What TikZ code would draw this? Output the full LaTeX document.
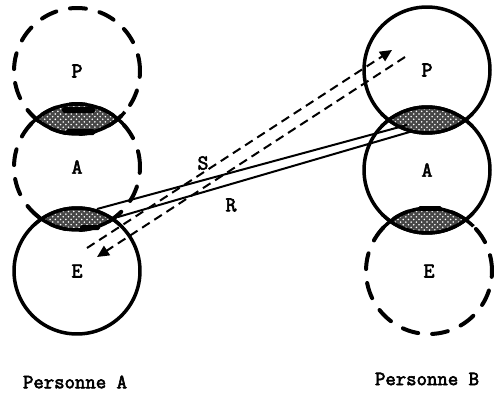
\documentclass[tikz,border=0pt]{standalone}
\usepackage{fontspec}
\setmonofont{Latin Modern Mono}[AutoFakeBold=3]
\usetikzlibrary{arrows.meta,patterns}
\begin{document}
\begin{tikzpicture}[x=0.02cm,y=-0.02cm,
  ring/.style={circle, minimum size=2.52cm, inner sep=0pt, line width=0.07cm,
    font=\ttfamily\bfseries\fontsize{12}{13}\selectfont},
  solidring/.style={ring, draw},
  dashring/.style={ring, draw, line width=0.08cm, line cap=round, dash pattern=on 0.32cm off 0.28cm},
  lensline/.style={line width=0.07cm},
  signal/.style={line width=0.04cm, dash pattern=on 0.18cm off 0.11cm},
  reply/.style={line width=0.04cm},
  tip/.style={-{Triangle[length=0.24cm,width=0.22cm]}},
  tag/.style={font=\ttfamily\bfseries\fontsize{12}{13}\selectfont},
  caption/.style={font=\ttfamily\bfseries\fontsize{11.5}{13}\selectfont}
]
\useasboundingbox (0,0) rectangle (499,396);

% person A: perceptive (P), affective (A), executive (E) spheres
\node[dashring]  (LP) at (77,71)  {P};
\node[dashring]  (LA) at (77,167) {A};
\node[solidring] (LE) at (77,271) {E};
% person B
\node[solidring] (RP) at (427,70)  {P};
\node[solidring] (RA) at (427,170) {A};
\node[dashring]  (RE) at (429,271) {E};

% shaded overlaps between neighbouring spheres
\foreach \u/\v in {LP/LA, LA/LE, RP/RA, RA/RE}{
  \begin{scope}
    \clip (\u.center) circle (1.26cm);
    \fill[black!72] (\v.center) circle (1.26cm);
    \fill[pattern=crosshatch dots, pattern color=white] (\v.center) circle (1.26cm);
  \end{scope}
  \begin{scope}
    \clip (\v.center) circle (1.46cm);
    \draw[lensline] (\u.center) circle (1.26cm);
  \end{scope}
  \begin{scope}
    \clip (\u.center) circle (1.46cm);
    \draw[lensline] (\v.center) circle (1.26cm);
  \end{scope}
}

% heavy marks on the overlaps
\fill[rounded corners=1pt] (62,107) rectangle (95,113);
\fill[rounded corners=1pt] (66,129) rectangle (95,135);
\fill[rounded corners=1pt] (418,206) rectangle (442,211);
\fill[rounded corners=1pt] (80,225) rectangle (100,230);

% exchanged messages
\coordinate (s1a) at (87,248);
\coordinate (s1b) at (392,50);
\coordinate (s2a) at (405,57);
\coordinate (s2b) at (97,257);
\coordinate (r1a) at (97,209);
\coordinate (r1b) at (407,125);
\coordinate (r2a) at (118,217);
\coordinate (r2b) at (413,131);

\draw[signal, tip] (s1a) -- (s1b);
\draw[signal, tip] (s2a) -- (s2b);
\draw[reply] (r1a) -- (r1b);
\draw[reply] (r2a) -- (r2b);

\node[tag] (S) at (203,163) {S};
\node[tag] (R) at (231,205) {R};

\node[caption] (capA) at (75,382) {Personne A};
\node[caption] (capB) at (427,379) {Personne B};
\end{tikzpicture}
\end{document}
